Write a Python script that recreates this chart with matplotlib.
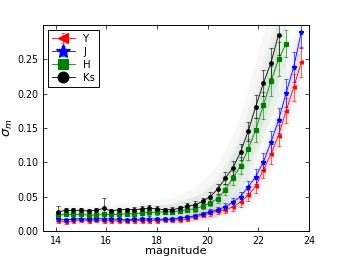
import matplotlib
matplotlib.use('Agg')
import matplotlib.pyplot as plt

# bin centres (magnitude)
mags = [14.1, 14.4, 14.7, 15.0, 15.3, 15.6, 15.9, 16.2, 16.5, 16.8, 17.1,
        17.4, 17.7, 18.0, 18.3, 18.6, 18.9, 19.2, 19.5, 19.8, 20.1, 20.4,
        20.7, 21.0, 21.3, 21.6, 21.9, 22.2, 22.5, 22.8, 23.1, 23.4, 23.7]

sig_Y = [0.015, 0.013, 0.015, 0.016, 0.015, 0.016, 0.015, 0.015, 0.014, 0.015, 0.015,
         0.015, 0.015, 0.015, 0.016, 0.016, 0.016, 0.018, 0.020, 0.023, 0.026, 0.029,
         0.031, 0.035, 0.042, 0.052, 0.065, 0.089, 0.112, 0.139, 0.175, 0.209, 0.246]
err_Y = [0.003, 0.003, 0.003, 0.003, 0.003, 0.003, 0.003, 0.003, 0.003, 0.003, 0.003,
         0.003, 0.003, 0.003, 0.003, 0.003, 0.003, 0.003, 0.003, 0.003, 0.004, 0.004,
         0.005, 0.006, 0.007, 0.008, 0.010, 0.012, 0.014, 0.016, 0.018, 0.020, 0.022]
spr_Y = [0.002, 0.002, 0.002, 0.002, 0.002, 0.002, 0.002, 0.002, 0.002, 0.002, 0.002,
         0.002, 0.002, 0.002, 0.002, 0.003, 0.003, 0.003, 0.003, 0.004, 0.004, 0.005,
         0.005, 0.006, 0.007, 0.008, 0.009, 0.011, 0.013, 0.015, 0.017, 0.019, 0.021]

sig_J = [0.017, 0.016, 0.017, 0.018, 0.017, 0.018, 0.018, 0.017, 0.017, 0.016, 0.017,
         0.017, 0.018, 0.017, 0.017, 0.017, 0.019, 0.020, 0.022, 0.025, 0.028, 0.031,
         0.035, 0.042, 0.050, 0.064, 0.079, 0.100, 0.129, 0.161, 0.201, 0.239, 0.290]
err_J = [0.003, 0.003, 0.003, 0.003, 0.003, 0.003, 0.003, 0.003, 0.003, 0.003, 0.003,
         0.003, 0.003, 0.003, 0.003, 0.003, 0.003, 0.003, 0.003, 0.003, 0.004, 0.004,
         0.005, 0.006, 0.007, 0.009, 0.011, 0.013, 0.016, 0.018, 0.020, 0.022, 0.024]
spr_J = [0.002, 0.002, 0.002, 0.002, 0.002, 0.002, 0.002, 0.002, 0.002, 0.002, 0.002,
         0.002, 0.002, 0.002, 0.003, 0.003, 0.003, 0.003, 0.004, 0.004, 0.005, 0.005,
         0.006, 0.007, 0.008, 0.009, 0.010, 0.012, 0.014, 0.016, 0.018, 0.020, 0.022]

sig_H = [0.023, 0.024, 0.024, 0.024, 0.023, 0.023, 0.024, 0.024, 0.024, 0.025, 0.025,
         0.026, 0.027, 0.027, 0.028, 0.028, 0.029, 0.031, 0.032, 0.036, 0.041, 0.047,
         0.060, 0.077, 0.095, 0.119, 0.147, 0.183, 0.218, 0.250, 0.273]
err_H = [0.004, 0.003, 0.003, 0.003, 0.003, 0.003, 0.003, 0.003, 0.003, 0.003, 0.004,
         0.006, 0.004, 0.004, 0.003, 0.003, 0.003, 0.003, 0.004, 0.004, 0.005, 0.006,
         0.008, 0.010, 0.012, 0.015, 0.018, 0.020, 0.022, 0.025, 0.020]
spr_H = [0.003, 0.003, 0.003, 0.003, 0.003, 0.003, 0.003, 0.003, 0.003, 0.003, 0.004,
         0.004, 0.004, 0.005, 0.005, 0.006, 0.007, 0.008, 0.009, 0.010, 0.012, 0.013,
         0.015, 0.017, 0.019, 0.021, 0.023, 0.025, 0.027, 0.029, 0.031]

sig_Ks = [0.028, 0.030, 0.030, 0.030, 0.029, 0.030, 0.033, 0.029, 0.031, 0.031, 0.031,
          0.032, 0.033, 0.032, 0.031, 0.031, 0.033, 0.036, 0.038, 0.043, 0.050, 0.061,
          0.077, 0.092, 0.115, 0.145, 0.181, 0.215, 0.245, 0.286]
err_Ks = [0.009, 0.003, 0.003, 0.003, 0.003, 0.003, 0.015, 0.003, 0.003, 0.003, 0.004,
          0.004, 0.005, 0.004, 0.003, 0.004, 0.004, 0.004, 0.005, 0.005, 0.006, 0.007,
          0.009, 0.010, 0.012, 0.014, 0.017, 0.019, 0.022, 0.030]
spr_Ks = [0.004, 0.004, 0.004, 0.004, 0.004, 0.004, 0.004, 0.004, 0.005, 0.005, 0.005,
          0.006, 0.006, 0.007, 0.008, 0.009, 0.010, 0.011, 0.013, 0.015, 0.017, 0.019,
          0.022, 0.025, 0.028, 0.031, 0.034, 0.037, 0.040, 0.043]

bands = [
    ('Y', sig_Y, err_Y, spr_Y, 'red', '<'),
    ('J', sig_J, err_J, spr_J, 'blue', '*'),
    ('H', sig_H, err_H, spr_H, 'green', 's'),
    ('Ks', sig_Ks, err_Ks, spr_Ks, 'black', 'o'),
]

fig = plt.figure(figsize=(4, 3), dpi=86)
ax = fig.add_axes([0.125, 0.105, 0.773, 0.798])

# faint clouds of individual stars
for name, sig, err, spr, col, mk in bands:
    x = mags[:len(sig)]
    lo = [s - d for s, d in zip(sig, spr)]
    hi = [s + d for s, d in zip(sig, spr)]
    lo2 = [s - 2 * d for s, d in zip(sig, spr)]
    hi2 = [s + 2 * d for s, d in zip(sig, spr)]
    fc = 'gray' if col == 'black' else col
    a = 0.06 if col in ('black', 'green') else 0.04
    ax.fill_between(x, lo2, hi2, color=fc, alpha=a, lw=0)
    ax.fill_between(x, lo, hi, color=fc, alpha=a, lw=0)

handles = []
for name, sig, err, spr, col, mk in bands:
    x = mags[:len(sig)]
    ms = 4 if mk == '*' else 3
    h = ax.errorbar(x, sig, yerr=err, color=col, marker=mk, ms=ms, mec=col,
                    lw=0.7, elinewidth=0.5, capsize=1.5, capthick=0.5, label=name)
    handles.append(h)

ax.set_xlim(13.5, 24)
ax.set_ylim(0, 0.3)
ax.set_xticks([14, 16, 18, 20, 22, 24])
ax.set_yticks([0.0, 0.05, 0.10, 0.15, 0.20, 0.25])
ax.set_yticklabels(['0.00', '0.05', '0.10', '0.15', '0.20', '0.25'])
ax.tick_params(direction='in', top=True, right=True, labelsize=8, length=3.5,
               width=0.6, pad=4)
for sp in ax.spines.values():
    sp.set_linewidth(0.8)

ax.set_xlabel('magnitude', fontsize=9.5, labelpad=0)
ax.set_ylabel(r'$\bar{\sigma}_m$', fontsize=11, labelpad=2)

leg = ax.legend(handles=handles, loc='upper left', fontsize=8.5, markerscale=3,
                handlelength=2.3, borderaxespad=0.45, labelspacing=0.3, fancybox=False,
                framealpha=1)
leg.get_frame().set_edgecolor('black')
leg.get_frame().set_linewidth(0.8)

fig.savefig('out.png', dpi=86, facecolor='white')
